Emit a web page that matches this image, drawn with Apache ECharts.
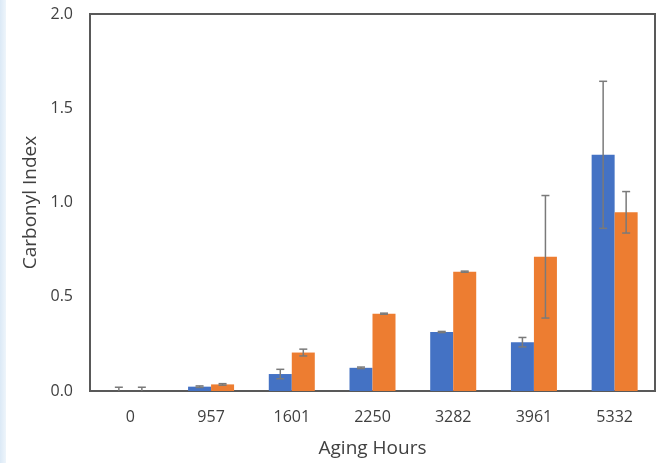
<!DOCTYPE html>
<html>
<head>
<meta charset="utf-8">
<script src="https://cdn.jsdelivr.net/npm/echarts@6/dist/echarts.min.js"></script>
<style>
  html, body { margin: 0; padding: 0; background: #fff; }
  #strip {
    position: absolute; left: 0; top: 0; width: 6px; height: 463px;
    background: linear-gradient(to right, #dbe9f6, #eef5fb);
  }
  #chart { width: 658px; height: 463px; }
</style>
</head>
<body>
<div id="strip"></div>
<div id="chart"></div>
<script>
// data
const hours = ['0', '957', '1601', '2250', '3282', '3961', '5332']
const blueVals = [0.0, 0.023, 0.09, 0.123, 0.313, 0.259, 1.253]
const blueErr = [0.02, 0.004, 0.025, 0.004, 0.003, 0.025, 0.39]
const orangeVals = [0.0, 0.035, 0.204, 0.41, 0.633, 0.712, 0.948]
const orangeErr = [0.02, 0.004, 0.018, 0.003, 0.003, 0.325, 0.11]
const yTicks = { min: 0, max: 2, interval: 0.5 }

const catGap = 0.43
const chart = echarts.init(document.getElementById('chart'))

// error bars drawn on top of the bars, shifted to the left/right bar
function errorSeries(vals, errs, side) {
  return {
    type: 'custom',
    z: 10,
    data: vals.map((v, i) => [i, v, errs[i]]),
    renderItem: (params, api) => {
      const band = api.size([1, 0])[0]
      const bw = band * (1 - catGap) / 2
      const c = api.coord([api.value(0), api.value(1)])
      const x = c[0] + side * bw / 2
      const hi = api.coord([api.value(0), api.value(1) + api.value(2)])[1]
      // nothing is drawn below the axis
      const lo = api.coord([api.value(0), Math.max(api.value(1) - api.value(2), 0)])[1]
      const cap = 4
      const style = { stroke: '#7a7a7a', lineWidth: 1.5 }
      const parts = [
        { type: 'line', shape: { x1: x, y1: hi, x2: x, y2: lo }, style },
        { type: 'line', shape: { x1: x - cap, y1: hi, x2: x + cap, y2: hi }, style }
      ]
      if (api.value(1) - api.value(2) > 0) {
        parts.push({ type: 'line', shape: { x1: x - cap, y1: lo, x2: x + cap, y2: lo }, style })
      }
      return { type: 'group', children: parts }
    }
  }
}

const option = {
  animation: false,
  textStyle: { fontFamily: 'Open Sans' },
  grid: {
    left: 90, right: 3, top: 14, bottom: 70,
    show: true, borderColor: '#595959', borderWidth: 2
  },
  xAxis: {
    type: 'category',
    data: hours,
    name: 'Aging Hours',
    nameLocation: 'middle',
    nameGap: 48,
    nameTextStyle: { fontSize: 19, color: '#404040' },
    axisLine: { lineStyle: { color: '#595959', width: 2 } },
    axisTick: { show: false },
    axisLabel: { fontSize: 16, color: '#404040', margin: 18 }
  },
  yAxis: {
    type: 'value',
    min: yTicks.min, max: yTicks.max, interval: yTicks.interval,
    name: 'Carbonyl Index',
    nameLocation: 'middle',
    nameGap: 47,
    nameTextStyle: { fontSize: 19, color: '#404040' },
    axisLine: { show: true, lineStyle: { color: '#595959', width: 2 } },
    axisTick: { show: false },
    splitLine: { show: false },
    axisLabel: { fontSize: 16, color: '#404040', margin: 17, formatter: v => v.toFixed(1) }
  },
  series: [
    {
      type: 'bar', data: blueVals, barGap: 0, barCategoryGap: (catGap * 100) + '%',
      itemStyle: { color: '#4472C4' }
    },
    {
      type: 'bar', data: orangeVals, barGap: 0, barCategoryGap: (catGap * 100) + '%',
      itemStyle: { color: '#ED7D31' }
    },
    errorSeries(blueVals, blueErr, -1),
    errorSeries(orangeVals, orangeErr, 1)
  ]
}
chart.setOption(option)
</script>
</body>
</html>
